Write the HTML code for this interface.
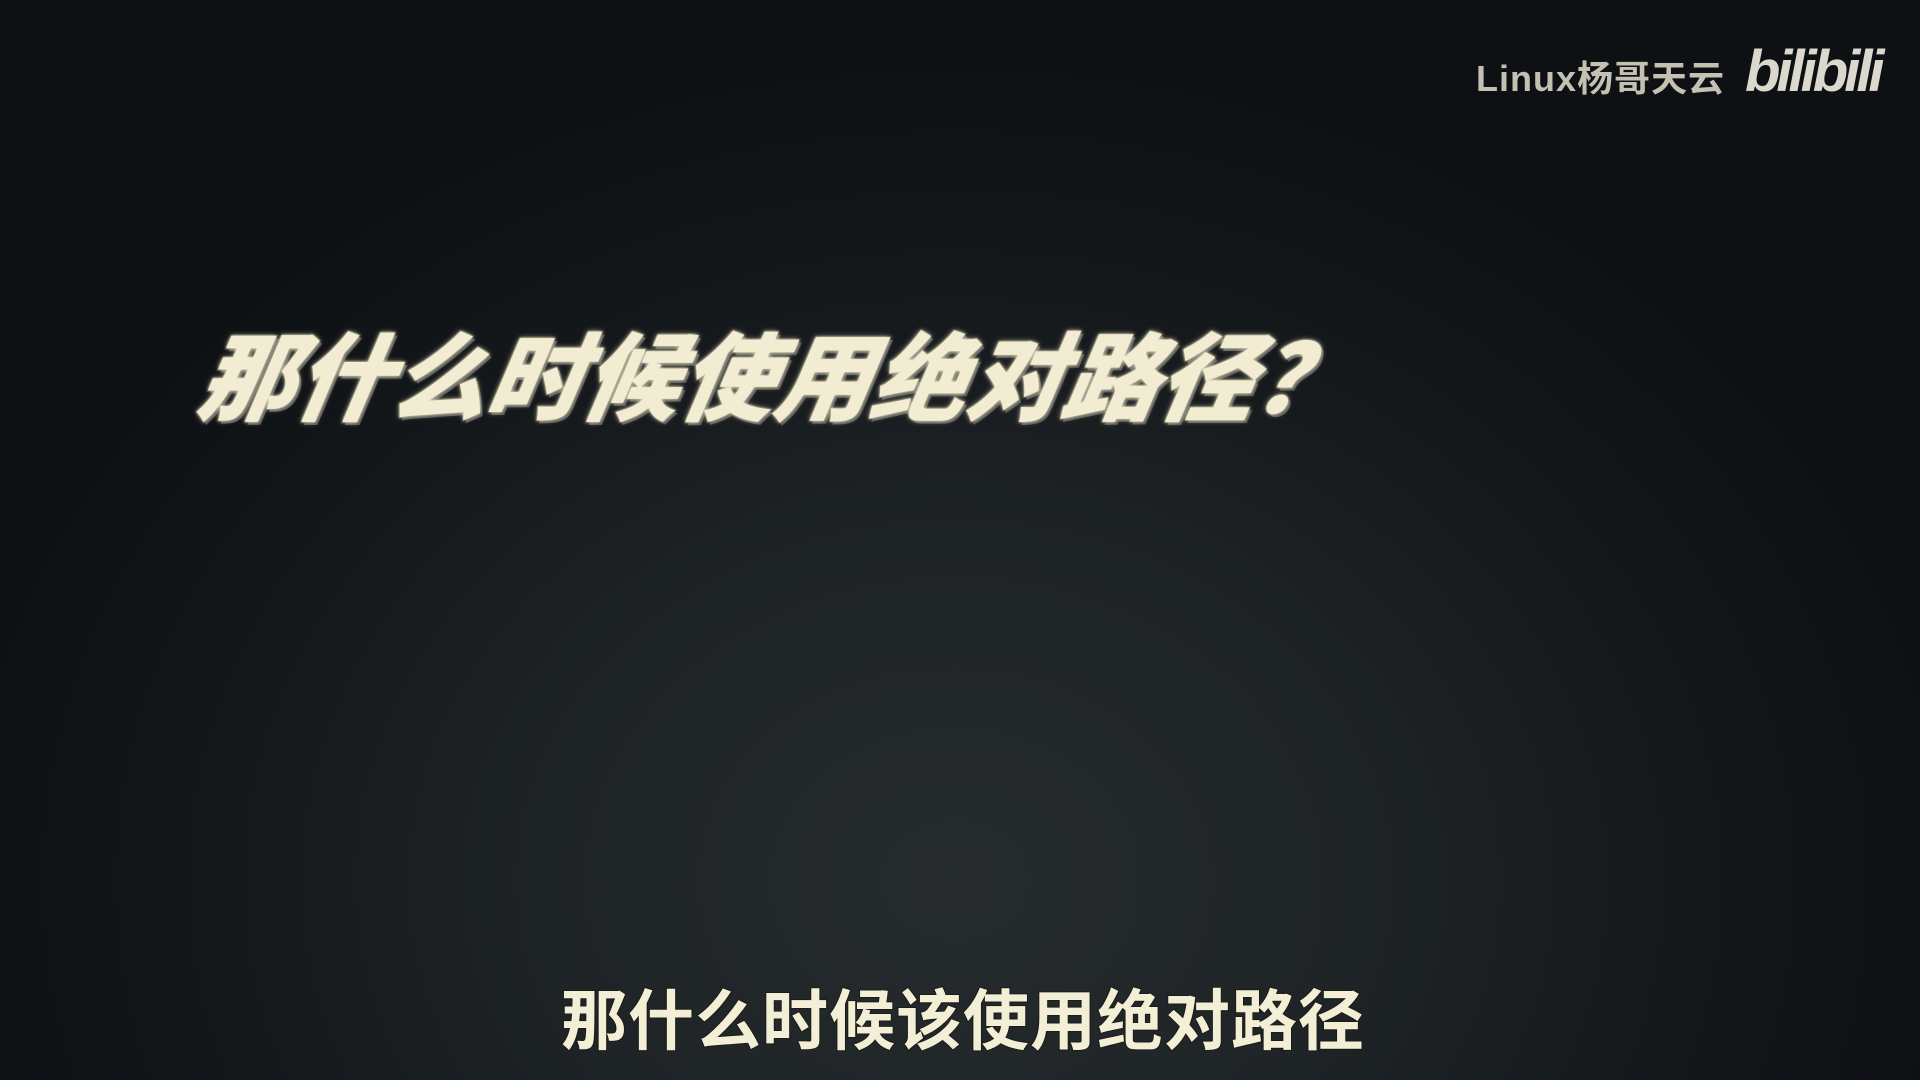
<!DOCTYPE html>
<html><head><meta charset="utf-8"><style>
html,body{margin:0;padding:0}
body{width:1920px;height:1080px;overflow:hidden;position:relative;
background:radial-gradient(ellipse 1000px 820px at 955px 880px,#262b2e 0%,#1f2427 40%,#15191c 70%,#0e1114 100%);
font-family:"Liberation Sans","Noto Sans CJK SC",sans-serif;}
.title{position:absolute;left:202px;top:302px;font-size:96px;font-weight:900;font-style:italic;
color:#f1ecd2;letter-spacing:0px;white-space:nowrap;transform:skewX(-10deg);
-webkit-text-stroke:3px #2a2a22;paint-order:stroke fill;
text-shadow:0 0 6px rgba(240,235,200,.7),0 0 2px #e8e2c0,3px 3px 0 #555;}
.sub{position:absolute;left:561px;top:968px;font-size:66px;font-weight:700;color:#f3efd6;
letter-spacing:1px;white-space:nowrap;-webkit-text-stroke:2px #1b1b18;paint-order:stroke fill;}
.wm{position:absolute;left:1476px;top:50px;font-size:36px;font-weight:700;color:#d8d4c4;white-space:nowrap;letter-spacing:1px;opacity:.9}
.bili{position:absolute;left:1745px;top:38px;font-size:58px;font-weight:900;font-style:italic;color:#e6e3d8;letter-spacing:-4px;opacity:.95}
</style></head><body>
<div class="title">那什么时候使用绝对路径？</div>
<div class="sub">那什么时候该使用绝对路径</div>
<div class="wm">Linux杨哥天云</div>
<div class="bili">bilibili</div>
</body></html>
